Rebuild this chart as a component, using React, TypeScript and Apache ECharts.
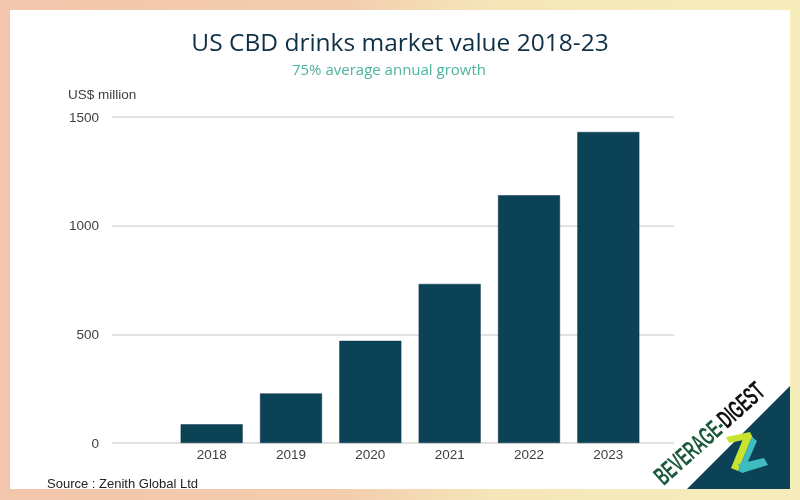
import React, { useEffect, useRef } from "react";
import * as echarts from "echarts";

const categories = ["2018", "2019", "2020", "2021", "2022", "2023"];
const values = [86, 228, 470, 732, 1140, 1431];
const yTicks = [0, 500, 1000, 1500];
const titleText = "US CBD drinks market value 2018-23";
const subtitleText = "75% average annual growth";
const unitText = "US$ million";
const sourceText = "Source : Zenith Global Ltd";

export default function App() {
  const ref = useRef<HTMLDivElement>(null);
  useEffect(() => {
    if (!ref.current) return;
    const chart = echarts.init(ref.current, null, { renderer: "svg" });
    const yMax = yTicks[yTicks.length - 1];
    const yInterval = yTicks[1] - yTicks[0];
    const top = 117;
    const bottom = 57;
    const deg = Math.PI / 180;
    chart.setOption({
      animation: false,
      title: {
        text: titleText,
        left: "center",
        top: 24,
        textStyle: { fontFamily: "Open Sans", fontSize: 24.5, fontWeight: "normal", color: "#0f3147" },
      },
      grid: [
        { left: 112, right: 126, top, bottom },
        { left: 172, right: 152, top, bottom },
      ],
      xAxis: [
        { type: "value", gridIndex: 0, min: 0, max: 1, show: false },
        {
          type: "category",
          gridIndex: 1,
          data: categories,
          axisLine: { show: false },
          axisTick: { show: false },
          axisLabel: { color: "#404040", fontSize: 13.5, fontFamily: "Liberation Sans", margin: 4 },
        },
      ],
      yAxis: [
        {
          type: "value",
          gridIndex: 0,
          min: 0,
          max: yMax,
          interval: yInterval,
          axisLine: { show: false },
          axisTick: { show: false },
          axisLabel: {
            color: "#404040",
            fontSize: 13.5,
            fontFamily: "Liberation Sans",
            margin: 13,
            formatter: (v: number) => String(v),
          },
          splitLine: { lineStyle: { color: "#d9d9d9", width: 1.5 } },
        },
        { type: "value", gridIndex: 1, min: 0, max: yMax, interval: yInterval, show: false },
      ],
      series: [
        {
          type: "bar",
          xAxisIndex: 1,
          yAxisIndex: 1,
          data: values,
          barWidth: 62,
          itemStyle: { color: "#0c4256", borderColor: "#0a3446", borderWidth: 0.5 },
        },
      ],
      graphic: [
        {
          type: "rect",
          z: -100,
          silent: true,
          shape: { x: 0, y: 0, width: 800, height: 500 },
          style: {
            fill: new echarts.graphic.LinearGradient(0, 0, 1, 0, [
              { offset: 0, color: "#f2c6ac" },
              { offset: 0.42, color: "#f3ccad" },
              { offset: 0.62, color: "#f5e6b9" },
              { offset: 1, color: "#f6edbb" },
            ]),
          },
        },
        {
          type: "rect",
          z: -99,
          silent: true,
          shape: { x: 10, y: 10, width: 780, height: 479 },
          style: { fill: "#ffffff" },
        },
        {
          type: "text",
          x: 389,
          y: 69,
          style: {
            text: subtitleText,
            fill: "#4db39e",
            fontSize: 15,
            fontFamily: "Open Sans",
            align: "center",
            verticalAlign: "middle",
          },
        },
        {
          type: "text",
          left: 68,
          top: 87,
          style: { text: unitText, fill: "#404040", fontSize: 13.5, fontFamily: "Liberation Sans" },
        },
        {
          type: "text",
          left: 47,
          top: 477,
          style: { text: sourceText, fill: "#222222", fontSize: 13, fontFamily: "Liberation Sans" },
        },
        {
          type: "polygon",
          z: 50,
          silent: true,
          shape: { points: [[790, 386], [790, 489], [687, 489]] },
          style: { fill: "#0c4256" },
        },
        {
          type: "text",
          z: 60,
          x: 709,
          y: 433,
          rotation: 42 * deg,
          scaleX: 0.55,
          style: {
            text: "{a|BEVERAGE-}{b|DIGEST}",
            fontFamily: "Liberation Sans",
            fontWeight: "bold",
            fontSize: 26,
            align: "center",
            verticalAlign: "middle",
            rich: {
              a: { fill: "#1c5a3c", fontFamily: "Liberation Sans", fontWeight: "bold", fontSize: 26 },
              b: { fill: "#111111", fontFamily: "Liberation Sans", fontWeight: "bold", fontSize: 26 },
            },
          },
        },
        {
          type: "polygon",
          z: 61,
          shape: { points: [[726, 437], [750, 432], [753, 438], [729, 443]] },
          style: { fill: "#c9e430" },
        },
        {
          type: "polygon",
          z: 61,
          shape: { points: [[745, 434], [752, 437], [738, 471], [731, 468]] },
          style: { fill: "#c9e430" },
        },
        {
          type: "polygon",
          z: 61,
          shape: { points: [[752, 437], [757, 441], [743, 473], [738, 471]] },
          style: { fill: "#3fbcc0" },
        },
        {
          type: "polygon",
          z: 61,
          shape: { points: [[738, 464], [764, 458], [768, 465], [742, 473]] },
          style: { fill: "#3fbcc0" },
        },
      ],
    });
    return () => chart.dispose();
  }, []);
  return <div ref={ref} style={{ position: "fixed", left: 0, top: 0, width: 800, height: 500 }} />;
}
